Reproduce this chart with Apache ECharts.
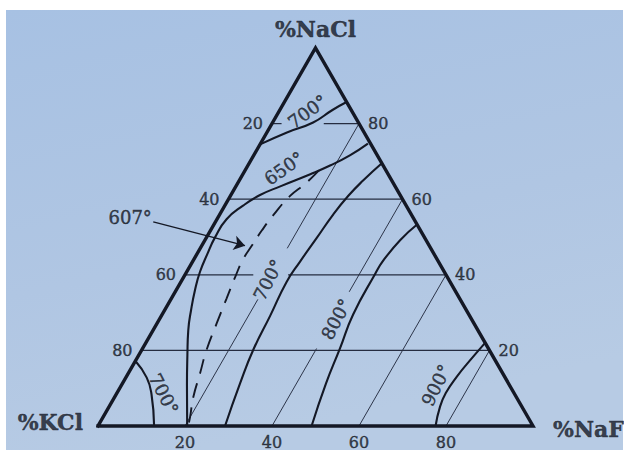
<!DOCTYPE html>
<html>
<head>
<meta charset="utf-8">
<script src="https://cdn.jsdelivr.net/npm/echarts@6/dist/echarts.min.js"></script>
<style>
  html, body { margin: 0; padding: 0; background: #ffffff; }
  #chart { width: 624px; height: 450px; }
</style>
</head>
<body>
<div id="chart"></div>
<script>
// Liquidus projection of the KCl–NaCl–NaF ternary system.
// Every composition is written as [NaF %, NaCl %]; KCl is the remainder.

const cornerNames = ['%KCl', '%NaF', '%NaCl'];

// Edge tick values
const kclTicks = [20, 40, 60, 80];   // left edge (KCl %)
const naclTicks = [80, 60, 40, 20];  // right edge (NaCl %)
const nafTicks = [20, 40, 60, 80];   // base (NaF %)

// Isotherms
const iso700Top = [[0, 74.5], [4.5, 77.6], [9.3, 80.3], [12.1, 83.6], [14.3, 85.7]];
const iso650 = [[24.7, 74.7], [22.1, 71.6], [18.9, 68.9], [15.5, 66.6], [10.2, 63.4],
  [6.7, 61.1], [4.2, 58.3], [2.2, 54.7], [1.95, 49.9], [2.4, 45.4], [3.05, 40.8],
  [4.3, 36.0], [6.05, 30.7], [8.1, 25.3], [11.2, 18.7], [15.1, 10.7], [20.5, 0]];
const valley607 = [[17.0, 67.6], [15.7, 64.3], [13.7, 60.8], [12.4, 55.7], [11.8, 51.7],
  [11.5, 47.6], [11.3, 44.1], [11.8, 39.6], [12.7, 33.7], [13.7, 27.2], [14.9, 20.1],
  [16.5, 13.9], [18.1, 7.6], [20.0, 2.3], [20.7, 0]];
const iso700Mid = [[30.5, 69.5], [28.5, 65.0], [27.1, 60.9], [26.1, 56.0], [25.4, 49.7],
  [24.7, 43.5], [24.3, 38.1], [25.0, 29.2], [25.6, 20.3], [27.0, 11.4], [29.2, 0]];
const iso800 = [[46.7, 53.3], [44.9, 49.2], [43.7, 43.8], [43.6, 40.2], [43.9, 29.5],
  [45.35, 20.6], [46.8, 11.2], [49.1, 0]];
const iso900 = [[78.0, 22.0], [77.1, 18.4], [75.95, 13.0], [75.6, 8.7], [76.1, 5.0], [77.6, 0]];
const iso700KCl = [[0, 17.2], [4.8, 12.8], [8.1, 8.4], [12.9, 0]];

// Isotherm captions: text, anchor composition, rotation (deg)
const isoCaptions = [
  { text: '700°', at: [6.55, 83.2], rotate: 36 },
  { text: '650°', at: [8.66, 68.2], rotate: 35 },
  { text: '700°', at: [19.75, 38.7], rotate: 63 },
  { text: '800°', at: [40.6, 28.3], rotate: 62 },
  { text: '900°', at: [72.3, 10.8], rotate: 64 },
  { text: '700°', at: [10.9, 8.5], rotate: -63 }
];

// Pointer to the 607° valley
const pointerText = '607°';
const pointerTextAt = [-20.2, 55.2];
const pointerFrom = [-14.3, 54.0];
const pointerTo = [9.95, 47.7];

// Grid lines of constant NaCl (spans along NaF) and of constant NaF (spans along NaCl)
const naclGridLevels = [80, 60, 40, 20];
const naclGridSpans = [[[0, 2.2], [11.9, 20]], [[0, 40]], [[0, 15.7], [23.7, 60]], [[0, 80]]];
const nafGridLevels = [20, 40, 60, 80];
const nafGridSpans = [[[0, 33.5], [47, 80]], [[0, 20.5], [35.5, 60]], [[0, 40]], [[0, 20]]];

// ---------------------------------------------------------------
const SQ3 = Math.sqrt(3) / 2;
const tern = p => [p[0] + p[1] / 2, p[1] * SQ3];

const ink = '#141825';
const gridInk = '#252c40';
const serif = '"DejaVu Serif", "Liberation Serif", serif';

function lineSeries(points, width, color, extra) {
  return Object.assign({
    type: 'line',
    data: points.map(tern),
    symbol: 'none',
    silent: true,
    clip: false,
    smooth: false,
    animation: false,
    lineStyle: { width: width, color: color, cap: 'butt', join: 'round' },
    z: 2
  }, extra || {});
}

function textSeries(items, label) {
  return {
    type: 'scatter',
    symbolSize: 0,
    silent: true,
    clip: false,
    animation: false,
    z: 5,
    itemStyle: { color: 'rgba(0,0,0,0)' },
    label: Object.assign({
      show: true, color: ink, fontFamily: serif,
      textBorderColor: ink, textBorderWidth: 0.45
    }, label),
    data: items.map(it => ({
      value: tern(it.at),
      label: { formatter: it.text, rotate: it.rotate || 0 }
    }))
  };
}

const series = [];

// grid lines
naclGridLevels.forEach((lv, i) => {
  naclGridSpans[i].forEach(sp => {
    series.push(lineSeries([[sp[0], lv], [sp[1], lv]], 1.25, gridInk, { z: 1 }));
  });
});
nafGridLevels.forEach((lv, i) => {
  nafGridSpans[i].forEach(sp => {
    series.push(lineSeries([[lv, sp[0]], [lv, sp[1]]], 0.95, gridInk, { z: 1 }));
  });
});

// isotherms
[iso700Top, iso650, iso700Mid, iso800, iso900, iso700KCl].forEach(c => {
  series.push(lineSeries(c, 2.1, ink, { smooth: 0.5 }));
});
series.push(lineSeries(valley607, 1.9, ink, {
  smooth: 0.5,
  lineStyle: { width: 1.9, color: ink, type: [15, 10], cap: 'butt' }
}));

// triangle frame
series.push(lineSeries([[0, 0], [100, 0], [0, 100], [0, 0]], 3.4, ink,
  { lineStyle: { width: 3.4, color: ink, join: 'miter', cap: 'square' }, z: 3 }));

// pointer arrow
series.push({
  type: 'line',
  data: [],
  silent: true,
  animation: false,
  markLine: {
    silent: true,
    animation: false,
    symbol: ['none', 'arrow'],
    symbolSize: 11,
    label: { show: false },
    lineStyle: { color: ink, width: 1.4, type: 'solid' },
    emphasis: { disabled: true },
    data: [[{ coord: tern(pointerFrom) }, { coord: tern(pointerTo) }]]
  }
});

// captions
series.push(textSeries(isoCaptions, { position: 'inside', fontSize: 18 }));
series.push(textSeries([{ text: pointerText, at: pointerTextAt }], { position: 'inside', fontSize: 18 }));

// edge ticks
series.push(textSeries(kclTicks.map(k => ({ text: String(k), at: [0, 100 - k] })),
  { position: 'left', distance: 9, fontSize: 16 }));
series.push(textSeries(naclTicks.map(n => ({ text: String(n), at: [100 - n, n] })),
  { position: 'right', distance: 9, fontSize: 16 }));
series.push(textSeries(nafTicks.map(f => ({ text: String(f), at: [f, 0] })),
  { position: 'bottom', distance: 8, fontSize: 16 }));

// corner titles
series.push(textSeries([{ text: cornerNames[2], at: [0, 100] }],
  { position: 'top', distance: 8, fontSize: 22, fontWeight: 'bold' }));
series.push(textSeries([{ text: cornerNames[0], at: [0, 0] }],
  { position: 'left', distance: 15, fontSize: 22, fontWeight: 'bold', offset: [0, -4] }));
series.push(textSeries([{ text: cornerNames[1], at: [100, 0] }],
  { position: 'right', distance: 20, fontSize: 22, fontWeight: 'bold', offset: [0, 3] }));

const chart = echarts.init(document.getElementById('chart'), null, { renderer: 'svg' });
chart.setOption({
  animation: false,
  backgroundColor: '#ffffff',
  graphic: [{
    type: 'rect',
    silent: true,
    z: -10,
    shape: { x: 6, y: 10, width: 617, height: 440 },
    style: {
      fill: {
        type: 'linear', x: 0, y: 0, x2: 0.3, y2: 1,
        colorStops: [
          { offset: 0, color: '#a7c1e3' },
          { offset: 0.6, color: '#b0c6e3' },
          { offset: 1, color: '#b7cbe4' }
        ]
      }
    }
  }],
  grid: { left: 98, right: 91, top: 48, bottom: 24, containLabel: false },
  xAxis: { type: 'value', min: 0, max: 100, show: false },
  yAxis: { type: 'value', min: 0, max: 100 * SQ3, show: false },
  series: series
});
</script>
</body>
</html>
